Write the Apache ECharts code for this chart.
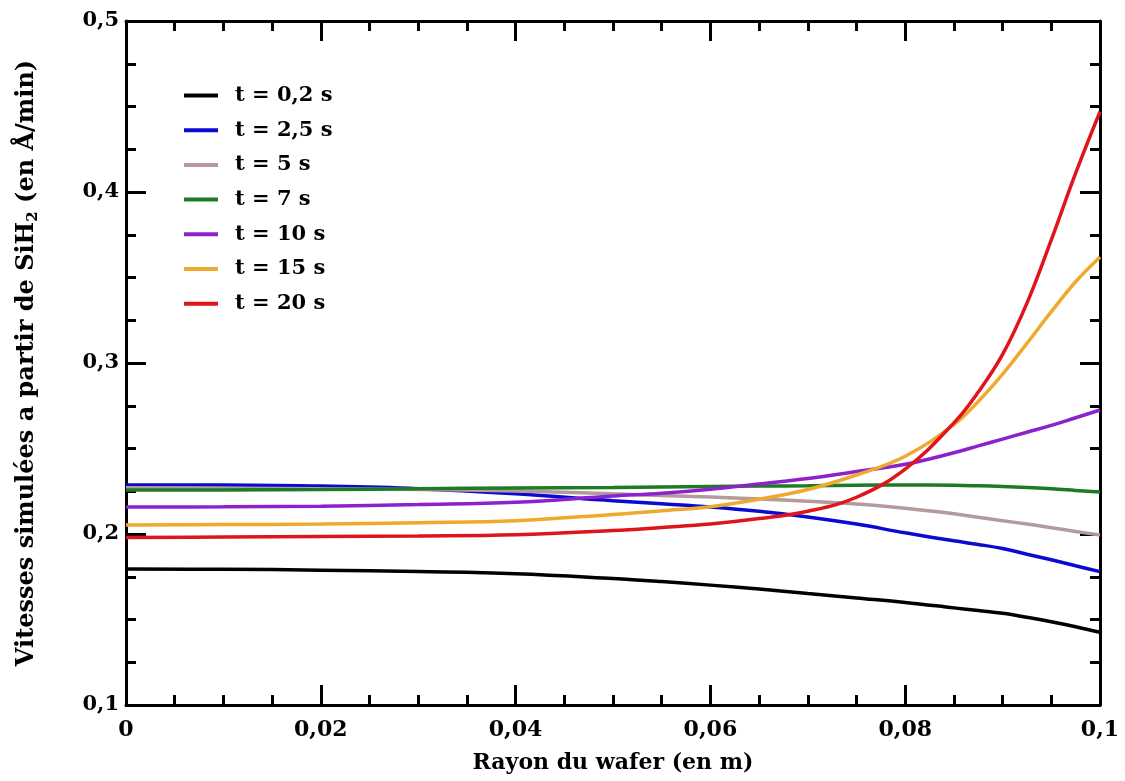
<!DOCTYPE html>
<html>
<head>
<meta charset="utf-8">
<script src="https://cdn.jsdelivr.net/npm/echarts@6/dist/echarts.min.js"></script>
<style>
html,body{margin:0;padding:0;background:#fff;}
#chart{width:1125px;height:781px;}
</style>
</head>
<body>
<div id="chart"></div>
<script>
const radius = [0, 0.01, 0.02, 0.03, 0.04, 0.05, 0.055, 0.06, 0.065, 0.07, 0.075, 0.08, 0.085, 0.0875, 0.09, 0.0925, 0.095, 0.0975, 0.1];
const seriesNames = ['t = 0,2 s', 't = 2,5 s', 't = 5 s', 't = 7 s', 't = 10 s', 't = 15 s', 't = 20 s'];
const t02 = [0.1795, 0.1794, 0.1788, 0.178, 0.1768, 0.174, 0.1722, 0.1701, 0.1678, 0.1652, 0.1626, 0.16, 0.1568, 0.1552, 0.1536, 0.1513, 0.1487, 0.1458, 0.1425];
const t25 = [0.2287, 0.2287, 0.228, 0.2265, 0.2235, 0.2195, 0.2177, 0.2158, 0.2133, 0.21, 0.2058, 0.2007, 0.196, 0.1939, 0.1915, 0.1882, 0.1849, 0.1814, 0.178];
const t5 = [0.227, 0.2268, 0.2265, 0.226, 0.2252, 0.2235, 0.2225, 0.2216, 0.2205, 0.2191, 0.2175, 0.215, 0.2118, 0.2098, 0.2078, 0.2058, 0.2037, 0.2015, 0.1994];
const t7 = [0.2257, 0.2258, 0.226, 0.2265, 0.2269, 0.2272, 0.2275, 0.2278, 0.228, 0.2282, 0.2285, 0.2287, 0.2285, 0.2282, 0.2278, 0.2272, 0.2265, 0.2255, 0.2245];
const t10 = [0.2158, 0.2159, 0.2163, 0.2172, 0.2185, 0.2222, 0.2238, 0.2262, 0.2293, 0.2325, 0.2365, 0.2408, 0.2475, 0.2515, 0.2555, 0.2595, 0.2635, 0.268, 0.2725];
const t15 = [0.2053, 0.2055, 0.2058, 0.2066, 0.2078, 0.2114, 0.2136, 0.216, 0.2203, 0.226, 0.2345, 0.2455, 0.264, 0.2775, 0.2935, 0.3115, 0.33, 0.3475, 0.362];
const t20 = [0.198, 0.1982, 0.1985, 0.1988, 0.1995, 0.202, 0.2038, 0.2058, 0.209, 0.2133, 0.2215, 0.238, 0.265, 0.283, 0.305, 0.335, 0.372, 0.411, 0.447];
const seriesValues = [t02, t25, t5, t7, t10, t15, t20];
const colors = ['#000000', '#0a0ad2', '#b49a9a', '#1f7a26', '#8c22cc', '#eeaa2e', '#e0151b'];

const FONT = '"DejaVu Serif", "Liberation Serif", serif';
const comma = v => (v === 0 ? '0' : String(+v.toFixed(3)).replace('.', ','));

const chart = echarts.init(document.getElementById('chart'), null, {renderer: 'canvas'});

const axisCommon = {
  axisLine: {show: true, onZero: false, lineStyle: {color: '#000', width: 3}},
  axisTick: {show: true, inside: true, length: 20, lineStyle: {color: '#000', width: 3}},
  minorTick: {show: true, splitNumber: 4, length: 10, lineStyle: {color: '#000', width: 3}},
  splitLine: {show: false}
};

const option = {
  backgroundColor: '#ffffff',
  animation: false,
  color: colors,
  grid: {left: 126, right: 25, top: 21, bottom: 76},
  legend: {
    orient: 'vertical',
    left: 184,
    top: 85,
    padding: 0,
    itemWidth: 34,
    itemHeight: 4,
    itemGap: 13.7,
    icon: 'rect',
    data: seriesNames,
    textStyle: {fontFamily: FONT, fontWeight: 'bold', fontSize: 21, color: '#000', lineHeight: 20, padding: [0, 0, 0, 12]}
  },
  xAxis: [
    Object.assign({
      type: 'value', min: 0, max: 0.1, interval: 0.02,
      position: 'bottom',
      name: 'Rayon du wafer (en m)', nameLocation: 'middle', nameGap: 47,
      nameTextStyle: {fontFamily: FONT, fontWeight: 'bold', fontSize: 22, color: '#000'},
      axisLabel: {formatter: comma, margin: 14, fontFamily: FONT, fontWeight: 'bold', fontSize: 22, color: '#000'}
    }, axisCommon),
    Object.assign({
      type: 'value', min: 0, max: 0.1, interval: 0.02,
      position: 'top', axisLabel: {show: false}
    }, axisCommon)
  ],
  yAxis: [
    Object.assign({
      type: 'value', min: 0.1, max: 0.5, interval: 0.1,
      position: 'left',
      name: '{a|Vitesses simulées a partir de SiH}{s|2}{a| (en Å/min)}',
      nameLocation: 'middle', nameGap: 85, nameRotate: 90,
      nameTextStyle: {
        rich: {
          a: {fontFamily: FONT, fontWeight: 'bold', fontSize: 24, color: '#000'},
          s: {fontFamily: FONT, fontWeight: 'bold', fontSize: 15, color: '#000', padding: [13, 0, 0, 0]}
        }
      },
      axisLabel: {formatter: comma, margin: 7, fontFamily: FONT, fontWeight: 'bold', fontSize: 21, color: '#000'}
    }, axisCommon),
    Object.assign({
      type: 'value', min: 0.1, max: 0.5, interval: 0.1,
      position: 'right', axisLabel: {show: false}
    }, axisCommon)
  ],
  series: seriesNames.map((name, i) => ({
    name: name,
    type: 'line',
    xAxisIndex: 0,
    yAxisIndex: 0,
    smooth: 0.4,
    showSymbol: false,
    symbol: 'none',
    lineStyle: {width: 3.5, color: colors[i]},
    itemStyle: {color: colors[i]},
    data: radius.map((r, k) => [r, seriesValues[i][k]])
  }))
};
chart.setOption(option);
</script>
</body>
</html>
